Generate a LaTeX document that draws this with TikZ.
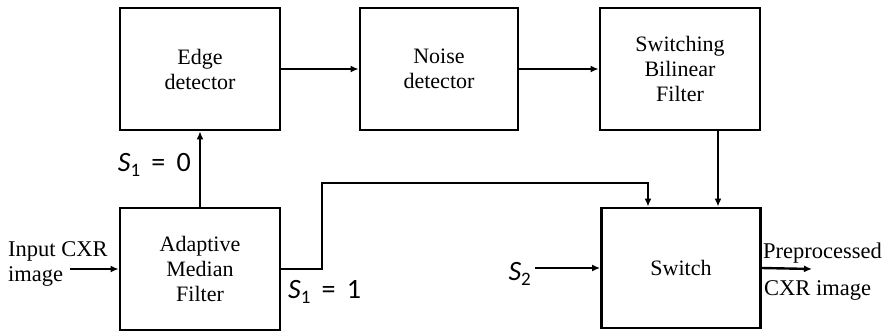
\documentclass[tikz,border=0pt]{standalone}
\usepackage{fontspec}
\setmainfont{Liberation Serif}
\newfontfamily\lblfont{Carlito}
\usetikzlibrary{positioning,arrows.meta,calc}
\newcommand{\sigS}[1]{\textit{S}\raisebox{-0.35ex}{\fontsize{19pt}{19pt}\selectfont #1}}
\newcommand{\sigeq}{\hspace{0.4em}=\hspace{0.4em}}
\tikzset{
    >={Latex[length=8pt,width=7pt]},
    block/.style={
        rectangle,
        draw,
        line width=2.8pt,
        minimum width=160pt,
        minimum height=122pt,
        align=center,
        font={\fontsize{22pt}{25pt}\selectfont}
    },
    line/.style={draw, line width=2.4pt, ->},
    sig/.style={inner sep=0pt, font={\lblfont\fontsize{28pt}{28pt}\selectfont}},
    txt/.style={inner sep=0pt, align=left, font={\fontsize{22.5pt}{25pt}\selectfont}},
}

\begin{document}
\begin{tikzpicture}[x=1pt,y=-1pt]
\useasboundingbox (0,0) rectangle (883,332);

% Blocks
\node[block] (edge) at (200,69) {Edge\\detector};
\node[block, minimum width=158pt] (noise) at (439,69) {Noise\\detector};
\node[block] (sbf) at (680,69) {Switching\\Bilinear\\Filter};
\node[block] (amf) at (200,269) {Adaptive\\Median\\Filter};
\node[block, minimum width=159pt, minimum height=120pt] (switch) at (681,268) {Switch};

% Inputs and outputs
\node[txt, anchor=west] (input) at (8,264) {Input CXR\\image};
\node[txt, anchor=south west] (prep) at (763,263) {Preprocessed};
\node[txt, anchor=north west] (cxr) at (764,280) {CXR image};
\coordinate (src) at (70,269);
\coordinate (out) at (812,269);

% Control signals
\node[sig, anchor=east] (szero) at (191,165) {\sigS{1}\sigeq 0};
\node[sig, anchor=west] (sone) at (288,292) {\sigS{1}\sigeq 1};
\node[sig, anchor=east] (stwo) at (531,274) {\sigS{2}};

% Connections
\coordinate (bend) at (322,183);
\coordinate (sbfout) at ([xshift=38pt]sbf.south);
\draw[line] (src) -- (amf.west);
\draw[line] (amf.north) -- (edge.south);
\draw[line] (edge.east) -- (noise.west);
\draw[line] (noise.east) -- (sbf.west);
\draw[line] (amf.east) -| (bend) -| ([xshift=-33pt]switch.north);
\draw[line] (sbfout) -- (sbfout |- switch.north);
\draw[line] ([xshift=4pt]stwo.east |- switch.west) -- (switch.west);
\draw[line] (switch.east) -- (out);
\end{tikzpicture}
\end{document}
